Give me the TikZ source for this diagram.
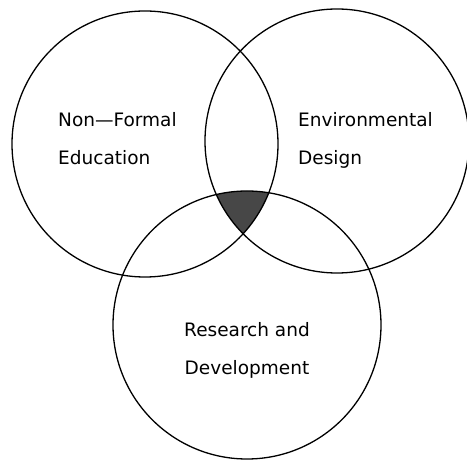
\documentclass[tikz,border=0pt]{standalone}
\usepackage{fontspec}
\setmainfont{DejaVu Sans}
\usepackage{tikz}

\tikzset{label text/.style={inner sep=0pt, align=left, font=\fontsize{18.5}{38}\selectfont}}

\begin{document}
\begin{tikzpicture}[x=1pt,y=-1pt]
		\useasboundingbox (0,0) rectangle (467,462);
		\begin{scope}
			\clip (145,144) circle[radius=133];
			\clip (337,141) circle[radius=132];
			\fill[black!72] (247,325) circle[radius=134];
		\end{scope}
		\draw[line width=1.3pt] (145,144) circle[radius=133];
		\draw[line width=1.3pt] (337,141) circle[radius=132];
		\draw[line width=1.3pt] (247,325) circle[radius=134];
		\node[label text, anchor=base west] (nfe) at (58,165) {Non—Formal\\Education};
		\node[label text, anchor=base west] (envd) at (298,165) {Environmental\\Design};
		\node[label text, align=center, anchor=base] (rnd) at (247,375) {Research and\\Development};
	\end{tikzpicture}
\end{document}
